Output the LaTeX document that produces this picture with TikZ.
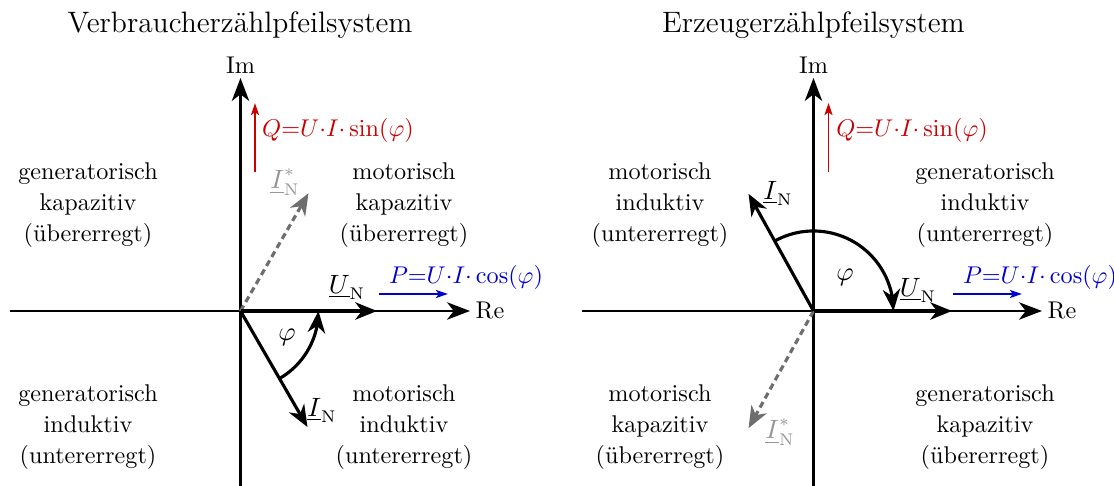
\documentclass[tikz,border=0pt]{standalone}
\usetikzlibrary{arrows.meta,calc,bending}
\definecolor{qred}{RGB}{200,0,0}
\definecolor{pblue}{RGB}{0,0,205}
\definecolor{dgray}{RGB}{110,110,110}
\definecolor{lgray}{RGB}{150,150,150}
\begin{document}
\begin{tikzpicture}[x=0.4132pt,y=0.4132pt,
  axis/.style={line width=0.85pt,-{Stealth[length=9.5pt,width=7.2pt,inset=2.8pt]}},
  vec/.style={line width=1.3pt,-{Stealth[length=9pt,width=7.2pt,inset=2.8pt]}},
  conj/.style={vec,dgray,dash pattern=on 2.6pt off 1.7pt},
  pow/.style={line width=0.8pt,-{Stealth[length=5pt,width=3.3pt,inset=1.2pt]}},
  quad/.style={align=center,font=\fontsize{10}{12.8}\selectfont},
  title/.style={font=\fontsize{12.2}{14}\selectfont},
  mlab/.style={font=\fontsize{10.5}{12}\selectfont},
  glab/.style={mlab,text=lgray}]
\useasboundingbox (0,0) rectangle (1114,486);
% ---------- left: Verbraucherzaehlpfeilsystem ----------
\node[title] (t1) at (240,461) {Verbraucherzählpfeilsystem};
\coordinate (O1) at (240.5,175);
\coordinate (X1a) at (10,175);
\coordinate (X1b) at (470,175);
\coordinate (Y1a) at (240.5,0);
\coordinate (Y1b) at (240.5,408);
\draw[axis] (X1a) -- (X1b);
\draw[axis] (Y1a) -- (Y1b);
\node (re1) at (490,175) {Re};
\node (im1) at (240.5,421) {Im};
\coordinate (U1) at (377,175);
\coordinate (I1) at ($(O1)+(-60:134)$);
\coordinate (C1) at ($(O1)+(60:136)$);
\coordinate (A1) at ($(O1)+(-60:78)$);
\draw[conj] (O1) -- (C1);
\draw[vec] (O1) -- (U1);
\draw[vec] (O1) -- (I1);
\draw[vec] (A1) arc[start angle=-60,end angle=0,radius=78];
\node[mlab] (phi1) at (287,149) {$\varphi$};
\node[mlab] (ul1) at (347,199) {$\underline{U}_\mathrm{N}$};
\node[mlab] (il1) at (322,76) {$\underline{I}_\mathrm{N}$};
\node[glab] (cl1) at (285,304) {$\underline{I}^*_\mathrm{N}$};
\coordinate (Q1a) at (255,314);
\coordinate (Q1b) at (255,383);
\draw[pow,qred] (Q1a) -- (Q1b);
\node[text=qred] (ql1) at (338,356) {$Q{=}U{\cdot}I{\cdot}\sin(\varphi)$};
\coordinate (P1a) at (379,192);
\coordinate (P1b) at (448,192);
\draw[pow,pblue] (P1a) -- (P1b);
\node[text=pblue] (pl1) at (466,209) {$P{=}U{\cdot}I{\cdot}\cos(\varphi)$};
\node[quad] (q1a) at (88,281) {generatorisch\\kapazitiv\\(übererregt)};
\node[quad] (q1b) at (404,281) {motorisch\\kapazitiv\\(übererregt)};
\node[quad] (q1c) at (88,59) {generatorisch\\induktiv\\(untererregt)};
\node[quad] (q1d) at (404,59) {motorisch\\induktiv\\(untererregt)};
% ---------- right: Erzeugerzaehlpfeilsystem ----------
\node[title] (t2) at (813.5,461) {Erzeugerzählpfeilsystem};
\coordinate (O2) at (813.5,175);
\coordinate (X2a) at (582,175);
\coordinate (X2b) at (1042,175);
\coordinate (Y2a) at (813.5,0);
\coordinate (Y2b) at (813.5,408);
\draw[axis] (X2a) -- (X2b);
\draw[axis] (Y2a) -- (Y2b);
\node (re2) at (1062,175) {Re};
\node (im2) at (813.5,421) {Im};
\coordinate (U2) at (952,175);
\coordinate (I2) at ($(O2)+(119:134)$);
\coordinate (C2) at ($(O2)+(241:134)$);
\coordinate (A2) at ($(O2)+(119:80)$);
\draw[conj] (O2) -- (C2);
\draw[vec] (O2) -- (U2);
\draw[vec] (O2) -- (I2);
\draw[vec] (A2) arc[start angle=119,end angle=0,radius=80];
\node[mlab] (phi2) at (845,209) {$\varphi$};
\node[mlab] (ul2) at (918,196) {$\underline{U}_\mathrm{N}$};
\node[mlab] (il2) at (778,293) {$\underline{I}_\mathrm{N}$};
\node[glab] (cl2) at (780,54) {$\underline{I}^*_\mathrm{N}$};
\coordinate (Q2a) at (828.5,314);
\coordinate (Q2b) at (828.5,383);
\draw[pow,qred] (Q2a) -- (Q2b);
\node[text=qred] (ql2) at (912,356) {$Q{=}U{\cdot}I{\cdot}\sin(\varphi)$};
\coordinate (P2a) at (953,192);
\coordinate (P2b) at (1022,192);
\draw[pow,pblue] (P2a) -- (P2b);
\node[text=pblue] (pl2) at (1040,209) {$P{=}U{\cdot}I{\cdot}\cos(\varphi)$};
\node[quad] (q2a) at (660,281) {motorisch\\induktiv\\(untererregt)};
\node[quad] (q2b) at (985,281) {generatorisch\\induktiv\\(untererregt)};
\node[quad] (q2c) at (660,59) {motorisch\\kapazitiv\\(übererregt)};
\node[quad] (q2d) at (985,59) {generatorisch\\kapazitiv\\(übererregt)};
\end{tikzpicture}
\end{document}
